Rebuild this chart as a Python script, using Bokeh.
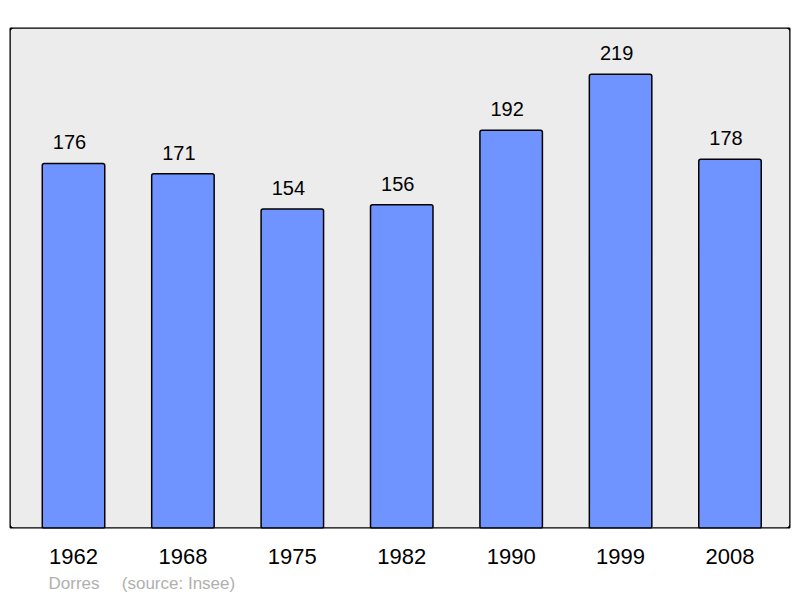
from bokeh.plotting import figure
from bokeh.models import Range1d, FixedTicker, BoxAnnotation, Title, ColumnDataSource
from bokeh.embed import file_html
from bokeh.resources import INLINE
from bokeh.core.properties import value

years = ["1962", "1968", "1975", "1982", "1990", "1999", "2008"]
population = [176, 171, 154, 156, 192, 219, 178]
commune = "Dorres"
source_note = "(source: Insee)"

idx = list(range(len(years)))
src = ColumnDataSource(dict(x=idx, top=population, label=[str(v) for v in population]))

p = figure(width=800, height=598, output_backend="svg", toolbar_location=None,
           x_range=Range1d(-0.585, 6.553), y_range=Range1d(0, 241.5),
           min_border_left=9, min_border_right=10, min_border_top=27, min_border_bottom=70)
p.background_fill_color = "#ececec"
p.border_fill_color = "white"
p.outline_line_color = None
p.grid.visible = False
p.yaxis.visible = False

p.vbar(x="x", top="top", bottom=0, width=0.571, source=src,
       fill_color="#7094ff", line_color="black", line_width=1.5, border_radius=2)

p.text(x="x", y="top", text="label", source=src, y_offset=-21, x_offset=-4,
       text_align="center", text_baseline="alphabetic",
       text_font=value("Liberation Sans"), text_font_size="20px", text_color="black")

frame = BoxAnnotation(fill_alpha=0, line_color="black", line_alpha=1, line_width=2.6, border_radius=4)
p.add_layout(frame)

xa = p.xaxis[0]
xa.ticker = FixedTicker(ticks=idx)
xa.major_label_overrides = {i: y for i, y in zip(idx, years)}
xa.axis_line_color = None
xa.major_tick_line_color = None
xa.minor_tick_line_color = None
xa.major_label_text_font = "Liberation Sans"
xa.major_label_text_font_size = "22px"
xa.major_label_text_color = "black"
xa.major_label_standoff = 14

footer = Title(text=commune + "\u00a0\u00a0\u00a0\u00a0\u2009" + source_note, align="left",
               text_font="Liberation Sans", text_font_size="17px", text_font_style="normal",
               text_color="#b0b0b0", offset=39)
p.add_layout(footer, "below")

open("out.html", "w").write(file_html(p, INLINE))
